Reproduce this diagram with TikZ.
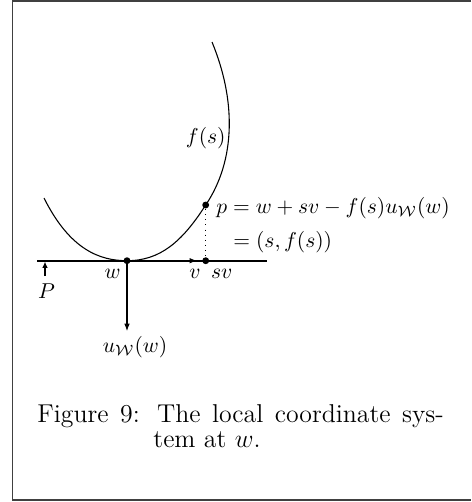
\documentclass[tikz,border=0pt]{standalone}
\usetikzlibrary{arrows.meta}
\begin{document}
\begin{tikzpicture}[x=0.4651pt,y=-0.4651pt,
  lbl/.style={inner sep=0pt, anchor=base},
  dotnode/.style={circle, fill=black, inner sep=0pt, minimum size=3.2pt},
  thinline/.style={line width=0.5pt},
  arr/.style={line width=0.5pt, -{Latex[length=3.4pt,width=2.6pt]}},
  frameline/.style={line width=0.8pt, draw=black!75}]
\useasboundingbox (0,0) rectangle (471,502);
% frame
\draw[frameline] (471,1) -- (12.5,1) -- (12.5,500) -- (471,500);
% points
\coordinate (L) at (37.3,260.7);
\coordinate (R) at (266.7,260.7);
\node[dotnode] (w) at (127,260.7) {};
\node[dotnode] (sv) at (205.7,260.7) {};
\node[dotnode] (p) at (205.7,205) {};
\coordinate (vtip) at (197,260.7);
\coordinate (utip) at (127,331);
\coordinate (Ptail) at (45,276);
\coordinate (Ptip) at (45,261.5);
\coordinate (c0) at (44,198);
\coordinate (c3) at (212,42);
% horizontal line
\draw[line width=0.9pt] (L) -- (R);
\draw[line width=0.9pt, -{Latex[length=3.4pt,width=2.6pt]}] (w.center) -- (vtip);
% curve
\draw[thinline] (c0) .. controls (70,250) and (100,260.7) .. (w.center)
  .. controls (160,260.7) and (182,242) .. (p.center)
  .. controls (236,160) and (236,100) .. (c3);
% dotted
\draw[line width=0.4pt, dotted] (p) -- (sv);
% arrows
\draw[arr] (w.center) -- (utip);
\draw[line width=0.9pt, -{Latex[length=3pt,width=2.6pt]}] (Ptail) -- (Ptip);
% labels
\node[lbl] (lw) at (112.5,278) {$w$};
\node[lbl] (lv) at (195,278) {$v$};
\node[lbl] (lsv) at (221.7,278) {$sv$};
\node[lbl] (lP) at (46.5,298) {$P$};
\node[lbl] (lu) at (135,352) {$u_{\mathcal{W}}(w)$};
\node[inner sep=0pt, anchor=east] (lf) at (226,138) {$f(s)$};
\node[inner sep=0pt, anchor=base west] (lp1) at (216,213.5) {$p = w + sv - f(s)u_{\mathcal{W}}(w)$};
\node[inner sep=0pt, anchor=base west] (lp2) at (233,247) {$= (s, f(s))$};
% caption
\node[inner sep=0pt, anchor=base west] (cap1) at (37,422) {\fontsize{12}{14}\selectfont\makebox[189pt][s]{Figure 9: The local coordinate sys-}};
\node[inner sep=0pt, anchor=base west] (cap2) at (153,447) {\fontsize{12}{14}\selectfont tem at $w$.};
\end{tikzpicture}
\end{document}
